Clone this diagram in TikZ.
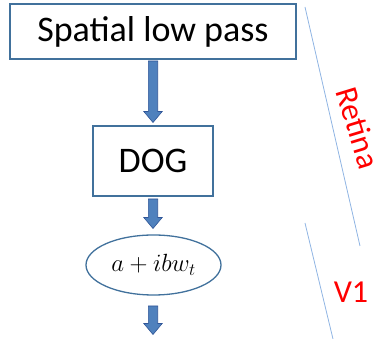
\documentclass[tikz,border=0pt]{standalone}
\usepackage{fontspec}
\setmainfont{Carlito}
\usetikzlibrary{calc,shapes.geometric}
\definecolor{boxblue}{HTML}{41719C}
\definecolor{arrfill}{HTML}{4F81BD}
\definecolor{arrdraw}{HTML}{2F5597}
\definecolor{linblue}{HTML}{8FB4E3}
\tikzset{
  boxnode/.style={draw=boxblue,line width=1.3pt,inner sep=0pt},
  arrowstyle/.style={fill=arrfill,draw=arrdraw,line width=0.6pt,line join=miter},
  sepline/.style={draw=linblue,line width=0.8pt},
  lbl/.style={text=red,inner sep=0pt,font=\fontsize{32}{36}\selectfont}
}
\newcommand\barrow[2]{\path[arrowstyle] let \p1=(#1), \p2=(#2) in
  (\x1-4.7pt,\y1) -- (\x1+4.7pt,\y1) -- (\x1+4.7pt,\y2+11pt) -- (\x1+9.2pt,\y2+11pt)
  -- (\x1,\y2) -- (\x1-9.2pt,\y2+11pt) -- (\x1-4.7pt,\y2+11pt) -- cycle;}
\begin{document}
\begin{tikzpicture}[x=1pt,y=-1pt]
\useasboundingbox (0,0) rectangle (376,339);
\node[boxnode,minimum width=286pt,minimum height=55pt,font=\fontsize{36}{40}\selectfont] (b1) at (153,31.5) {Spatial low pass};
\node[boxnode,minimum width=120pt,minimum height=70pt,font=\fontsize{36}{40}\selectfont] (b2) at (153,161) {DOG};
\node[boxnode,ellipse,minimum width=135pt,minimum height=60pt,font=\fontsize{26.5}{30}\selectfont] (e1) at (153.5,265) {$a+ibw_t$};
\coordinate (a1s) at (153,61);
\coordinate (a1e) at (153,122.5);
\coordinate (a2s) at (153,199);
\coordinate (a2e) at (153,228.5);
\coordinate (a3s) at (153,306);
\coordinate (a3e) at (153,334.5);
\barrow{a1s}{a1e}
\barrow{a2s}{a2e}
\barrow{a3s}{a3e}
\coordinate (l1a) at (305,7);
\coordinate (l1b) at (360,246);
\coordinate (l2a) at (305,223);
\coordinate (l2b) at (333,339);
\draw[sepline] (l1a) -- (l1b);
\draw[sepline] (l2a) -- (l2b);
\node[lbl,rotate=-73] (ret) at (358,128) {Retina};
\node[lbl] (v1) at (351,292) {V1};
\end{tikzpicture}
\end{document}
